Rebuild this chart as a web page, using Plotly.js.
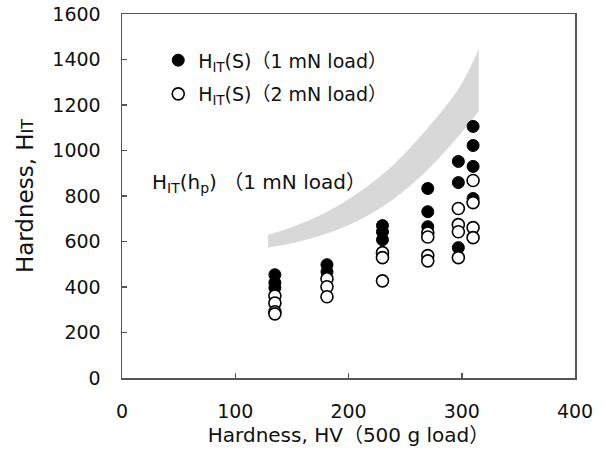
<!DOCTYPE html>
<html>
<head>
<meta charset="utf-8">
<script src="https://cdn.plot.ly/plotly-3.0.1.min.js"></script>
<style>html,body{margin:0;padding:0;background:#fff;}#chart{width:607px;height:450px;}</style>
</head>
<body>
<div id="chart"></div>
<script>
// Hardness HV (500 g load) of each specimen column
const hvFilled = [135,135,135, 181,181, 230,230,230, 270,270,270, 297,297,297, 310,310,310,310];
const hitFilled = [454,419,397, 498,467, 670,643,608, 833,731,665, 952,859,573, 1106,1022,930,789];
const hvOpen = [135,135,135,135, 181,181,181, 230,230,230, 270,270,270,270, 297,297,297,297, 310,310,310,310];
const hitOpen = [361,330,291,282, 436,401,357, 551,529,427, 638,620,538,515, 745,674,643,529, 868,771,661,617];
// HIT(hp) band (1 mN load)
const bandHV = [129, 151, 181, 210, 239, 269, 298, 315];
const bandUpper = [630, 665, 731, 819, 934, 1093, 1278, 1446];
const bandLower = [573, 593, 635, 696, 784, 911, 1068, 1172];

const FONT = 'DejaVu Sans, Noto Sans CJK JP, sans-serif';

const traces = [
  {x: bandHV, y: bandLower, type: 'scatter', mode: 'lines',
   line: {width: 0, shape: 'spline', smoothing: 1, color: 'rgba(0,0,0,0)'},
   showlegend: false, hoverinfo: 'skip'},
  {x: bandHV, y: bandUpper, type: 'scatter', mode: 'lines', fill: 'tonexty',
   fillcolor: '#d8d8d8', line: {width: 0, shape: 'spline', smoothing: 1, color: 'rgba(0,0,0,0)'},
   showlegend: false, hoverinfo: 'skip'},
  {x: hvFilled, y: hitFilled, type: 'scatter', mode: 'markers',
   name: 'H<sub>IT</sub>(S)（1 mN load）', legendgroup: 'a',
   marker: {symbol: 'circle', size: 12, color: '#000', line: {color: '#000', width: 1}}},
  {x: hvOpen, y: hitOpen, type: 'scatter', mode: 'markers',
   name: 'H<sub>IT</sub>(S)（2 mN load）', legendgroup: 'b',
   marker: {symbol: 'circle', size: 12, color: '#fff', line: {color: '#000', width: 1.6}}}
];

const axisCommon = {
  showgrid: false, zeroline: false, showline: true, mirror: true,
  linecolor: '#555', linewidth: 1.5, ticks: 'inside', ticklen: 5,
  tickwidth: 1.5, tickcolor: '#555', tickfont: {family: FONT, size: 19, color: '#111'},
  ticklabelstandoff: 16
};

const layout = {
  width: 607, height: 450,
  margin: {l: 122, r: 32, t: 14, b: 72},
  paper_bgcolor: '#fff', plot_bgcolor: '#fff',
  font: {family: FONT, color: '#111'},
  xaxis: Object.assign({}, axisCommon, {
    range: [0, 400], dtick: 100, tick0: 0,
    title: {text: 'Hardness, HV（500 g load）', font: {family: FONT, size: 20, color: '#111'}, standoff: 6}
  }),
  yaxis: Object.assign({}, axisCommon, {
    range: [0, 1600], dtick: 200, tick0: 0,
    title: {text: "Hardness, H<span style='font-size:16px'>IT</span>", font: {family: FONT, size: 23, color: '#111'}, standoff: 12}
  }),
  showlegend: true,
  legend: {x: 0.08, y: 0.925, xanchor: 'left', yanchor: 'top', bgcolor: 'rgba(0,0,0,0)',
    font: {family: FONT, size: 19, color: '#111'}, traceorder: 'grouped', tracegroupgap: 6},
  annotations: [
    {xref: 'x', yref: 'y', x: 25, y: 859, xanchor: 'left', yanchor: 'middle', showarrow: false,
     text: 'H<sub>IT</sub>(h<sub>p</sub>) （1 mN load）', font: {family: FONT, size: 20, color: '#111'}}
  ]
};

Plotly.newPlot('chart', traces, layout, {staticPlot: true, displayModeBar: false});
</script>
</body>
</html>
